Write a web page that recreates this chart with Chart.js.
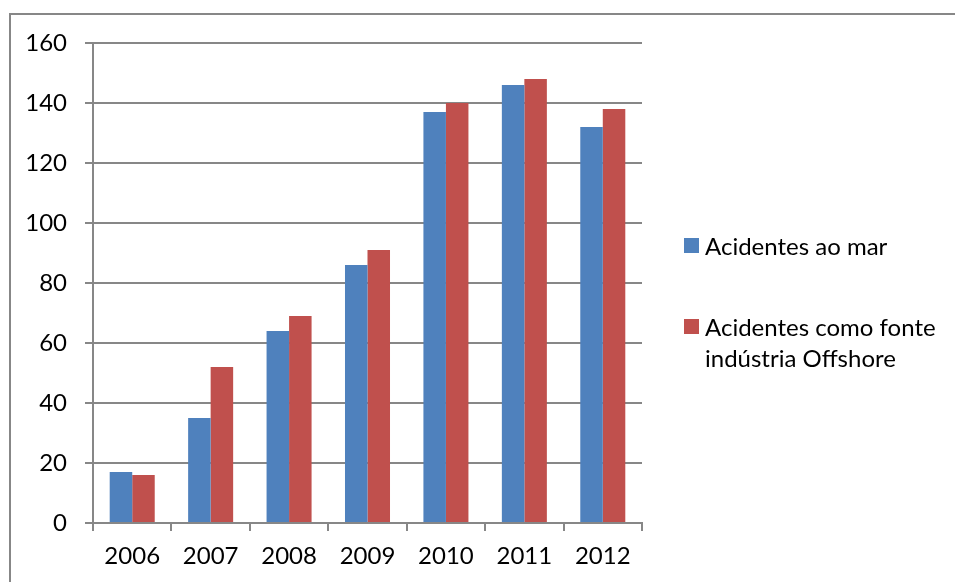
<!DOCTYPE html>
<html>
<head>
<meta charset="utf-8">
<script src="https://cdn.jsdelivr.net/npm/chart.js@4/dist/chart.umd.min.js"></script>
<style>
  html, body { margin: 0; padding: 0; background: #fff; }
  #wrap { position: relative; width: 955px; height: 582px; overflow: hidden; }
  #frame { position: absolute; left: 9px; top: 13px; width: 960px; height: 600px;
           border-top: 2px solid #878787; border-left: 2px solid #878787; }
  #legend { position: absolute; left: 684px; top: 230px; font-family: Lato, "Noto Sans", sans-serif;
            font-size: 24px; color: #000; }
  .item { display: flex; align-items: flex-start; margin-bottom: 50px; }
  .box { width: 15px; height: 15px; margin-top: 8px; margin-right: 6px; flex: none; }
  .txt { max-width: 250px; line-height: 31px; }
</style>
</head>
<body>
<div id="wrap">
  <div id="frame"></div>
  <canvas id="chart" width="955" height="582"></canvas>
  <div id="legend"></div>
</div>
<script>
// anos e séries
const years = ["2006", "2007", "2008", "2009", "2010", "2011", "2012"];
const acidentesMar = [17, 35, 64, 86, 137, 146, 132];
const acidentesOffshore = [16, 52, 69, 91, 140, 148, 138];
const seriesNames = ["Acidentes ao mar", "Acidentes como fonte indústria Offshore"];
const yTicks = [0, 20, 40, 60, 80, 100, 120, 140, 160];

const gray = "#878787";
const font = { family: "Lato, 'Noto Sans', sans-serif", size: 24 };

const chart = new Chart(document.getElementById("chart"), {
    type: "bar",
    data: {
        labels: years,
        datasets: [
            { label: seriesNames[0], data: acidentesMar, backgroundColor: "#4F81BD" },
            { label: seriesNames[1], data: acidentesOffshore, backgroundColor: "#C0504D" }
        ]
    },
    options: {
        responsive: false,
        animation: false,
        categoryPercentage: 0.574,
        barPercentage: 1.0,
        layout: { padding: { top: 43, right: 313, left: 0, bottom: 0 } },
        plugins: { legend: { display: false }, tooltip: { enabled: false } },
        scales: {
            x: {
                grid: { drawOnChartArea: false, color: gray, lineWidth: 2, tickLength: 8 },
                border: { color: gray, width: 2 },
                ticks: { color: "#000", font, padding: 11 },
                afterFit: s => { s.height = 59; }
            },
            y: {
                min: 0,
                max: 160,
                afterBuildTicks: s => { s.ticks = yTicks.map(v => ({ value: v })); },
                grid: { color: gray, lineWidth: 2, tickLength: 8 },
                border: { color: gray, width: 2 },
                ticks: { color: "#000", font, padding: 18 },
                afterFit: s => { s.width = 93; }
            }
        }
    }
});

// legenda à direita
const legend = document.getElementById("legend");
chart.data.datasets.forEach(ds => {
    const item = document.createElement("div");
    item.className = "item";
    const box = document.createElement("div");
    box.className = "box";
    box.style.background = ds.backgroundColor;
    const txt = document.createElement("div");
    txt.className = "txt";
    txt.textContent = ds.label;
    item.appendChild(box);
    item.appendChild(txt);
    legend.appendChild(item);
});
</script>
</body>
</html>
